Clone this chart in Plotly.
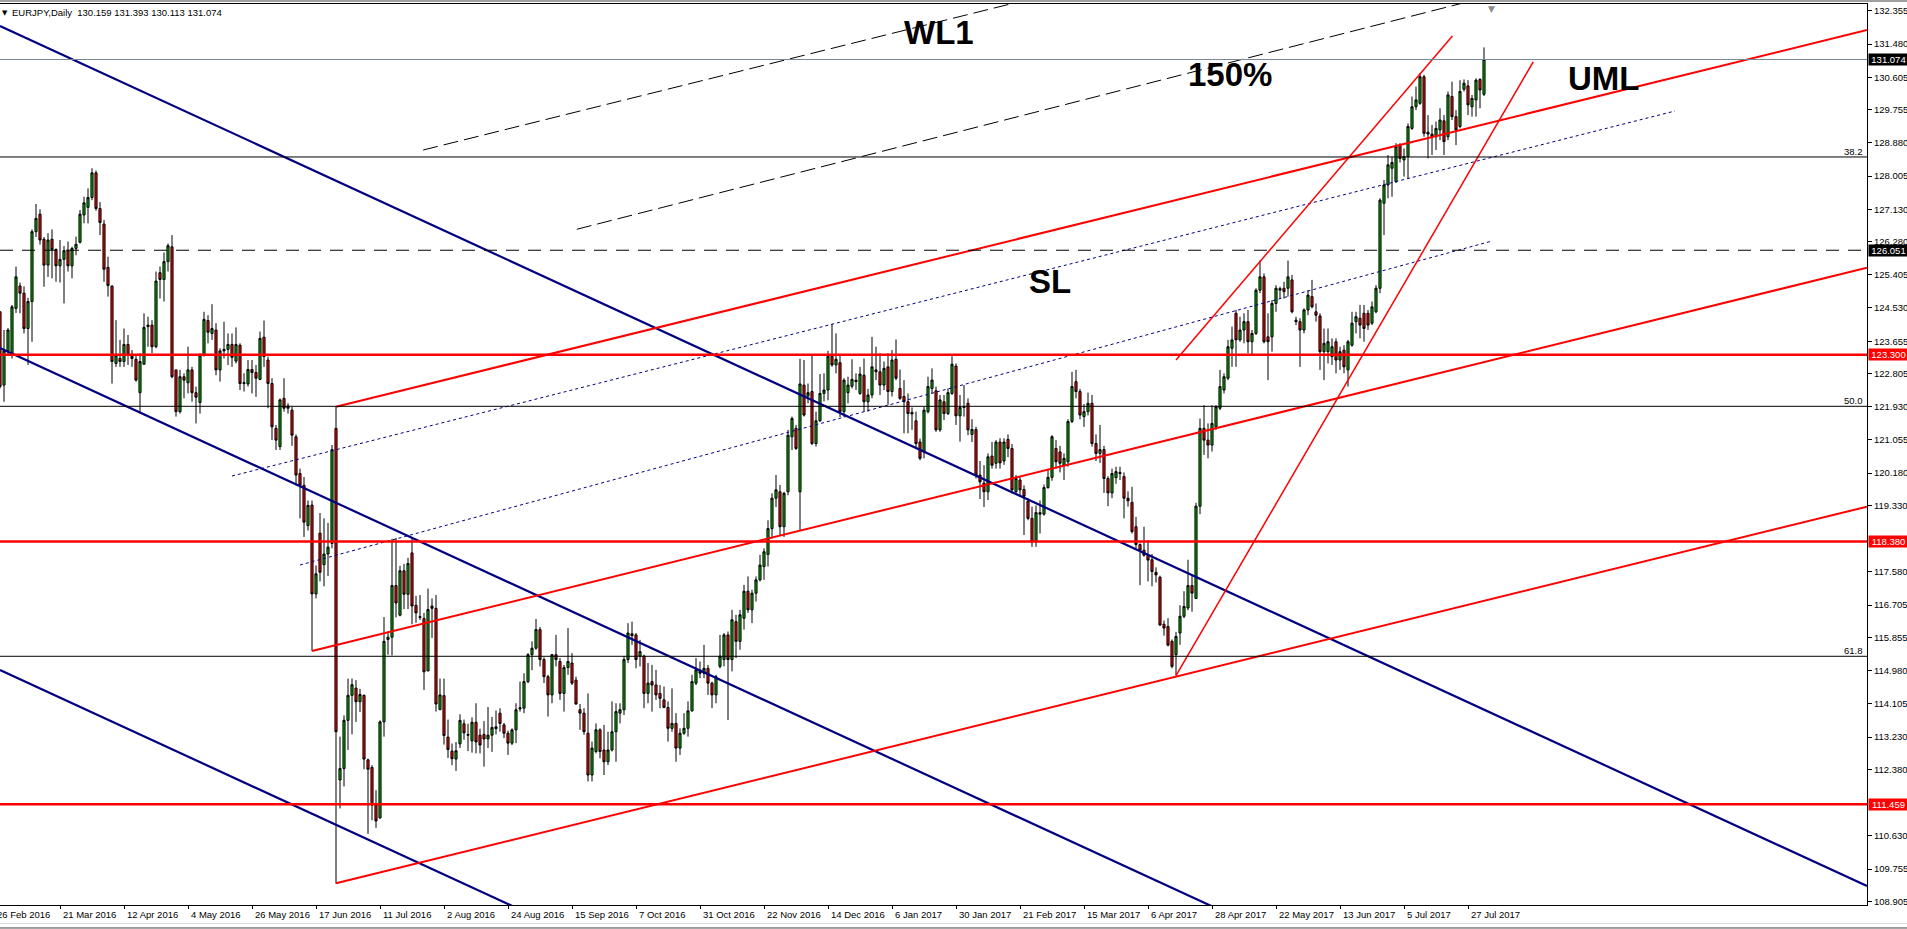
import plotly.graph_objects as go
import pandas as pd

# daily bars (open, high, low, close), 29 Feb 2016 .. 2 Aug 2017
bars_2016_a = [
    (124.43,124.45,122.41,122.46),(122.50,123.95,122.06,123.40),(123.40,124.00,123.30,123.95),(123.29,124.61,123.20,124.56),(124.52,125.62,124.40,125.35),
    (125.11,125.20,124.39,124.92),(124.92,125.10,123.86,123.99),(123.99,124.80,123.03,124.70),(124.70,126.60,123.64,126.54),(126.54,127.27,126.40,126.89),
    (127.00,127.13,126.20,126.32),(126.34,126.40,125.09,125.66),(125.66,126.50,125.35,126.32),(126.34,126.60,125.31,126.07),(126.07,126.10,125.22,125.64),
    (125.64,126.32,125.20,125.81),(125.81,126.16,124.65,126.04),(126.04,126.28,125.49,125.64),(125.64,126.14,125.31,126.10),(126.10,126.41,125.92,126.21),
    (126.26,127.11,126.23,127.00),(126.98,127.46,126.76,127.30),(127.18,127.68,126.76,127.44),(127.44,128.21,127.37,128.09),(128.09,128.15,127.09,127.15),
    (127.15,127.32,126.45,126.78),(126.74,126.85,125.22,125.55),(125.60,125.88,124.83,125.12),(125.11,125.12,122.54,123.12),(123.07,124.21,122.98,123.29),
    (123.20,123.69,122.98,123.12),(123.12,123.99,122.98,123.57),(123.57,123.82,123.03,123.29),(123.26,123.42,122.98,123.20),(123.18,123.29,122.59,122.63),
    (122.30,123.34,121.75,123.12),(123.05,124.39,123.03,124.02),(124.04,124.30,123.51,124.08),(124.08,124.21,123.34,123.51),(123.51,125.49,123.47,125.24),
]
bars_2016_b = [
    (125.46,125.62,124.78,125.28),(125.28,125.99,124.70,125.75),(125.75,126.23,125.49,126.17),(126.14,126.45,122.68,122.72),(122.90,122.90,121.67,121.80),
    (121.80,122.90,121.75,122.72),(122.72,122.81,122.15,122.63),(122.56,123.51,122.28,122.90),(122.90,122.98,122.06,122.30),(122.30,122.46,121.49,122.18),
    (122.04,123.34,121.75,123.29),(123.29,124.43,123.25,124.23),(124.20,124.34,123.60,123.89),(123.86,124.63,123.69,123.99),(123.95,124.13,122.76,122.90),
    (122.90,123.47,122.59,123.40),(123.40,124.17,123.20,123.44),(123.44,123.86,123.03,123.57),(123.57,123.86,122.98,123.23),(123.13,124.02,123.07,123.57),
    (123.55,123.60,122.37,122.54),(122.54,122.81,122.33,122.56),(122.53,123.16,122.46,122.91),(122.91,123.16,122.28,122.83),(122.83,123.03,122.19,122.68),
    (122.65,123.91,122.63,123.73),(123.76,124.20,122.98,123.25),(123.16,123.25,121.89,122.54),(122.54,122.68,121.05,121.40),(121.36,121.45,120.79,121.05),
    (120.88,122.15,120.79,122.11),(122.15,122.68,121.80,121.89),(121.95,122.02,121.75,121.89),(121.84,121.93,120.90,121.18),(121.14,121.20,119.86,120.13),
    (120.17,120.30,118.99,119.86),(119.86,120.08,118.50,118.89),(118.80,119.46,118.67,119.33),(119.34,119.46,115.50,117.00),(117.00,117.75,116.88,117.53),
    (118.60,119.13,117.33,117.57),(117.77,118.99,117.20,118.05),(118.05,118.87,117.47,118.23),(118.33,120.92,118.20,120.80),(121.36,121.93,109.37,113.37),
]
bars_2016_c = [
    (112.10,113.24,111.35,112.40),(112.40,113.80,111.93,113.67),(113.67,114.77,112.89,114.33),(114.33,114.77,113.30,114.61),(114.52,114.73,113.63,114.16),
    (114.16,114.50,113.89,114.35),(114.33,114.35,112.38,112.65),(112.63,112.66,110.68,112.38),(112.43,112.49,111.04,111.44),(111.44,111.83,110.84,111.02),
    (111.10,113.67,111.08,113.63),(113.63,116.39,113.24,115.75),(115.80,116.01,115.40,115.86),(115.86,118.45,115.38,117.22),(117.22,118.47,116.38,116.76),
    (116.44,117.74,116.41,117.61),(117.61,117.79,116.60,116.99),(116.99,117.95,116.60,117.80),(118.08,118.48,116.20,116.68),(116.70,116.95,116.24,116.50),
    (116.38,116.97,116.31,116.40),(116.35,116.50,114.47,114.95),(114.97,117.14,114.97,116.59),(116.68,116.88,115.84,116.62),(116.62,116.97,113.90,114.10),
    (113.95,114.77,113.95,114.34),(114.32,114.77,113.03,113.27),(113.23,113.69,112.68,112.90),(112.86,113.06,112.49,112.66),(112.65,113.10,112.34,112.87),
    (113.05,113.83,112.94,113.67),(113.58,113.69,113.16,113.34),(113.30,113.58,112.86,113.28),(113.13,113.75,112.82,113.62),(113.62,114.12,112.80,113.10),
    (113.28,113.45,112.80,113.02),(113.30,113.65,112.45,113.18),(113.18,114.02,112.94,113.28),(113.28,113.76,112.84,113.48),(113.45,113.93,113.30,113.50),
]
bars_2016_d = [
    (113.86,113.99,113.37,113.59),(113.55,113.60,113.20,113.33),(113.33,113.40,112.76,113.07),(113.07,113.46,113.02,113.42),(113.42,114.12,113.07,113.95),
    (113.97,114.69,113.90,114.00),(113.99,114.91,113.86,114.69),(114.69,115.44,114.65,115.40),(115.40,115.75,114.99,115.57),(115.57,116.34,115.53,116.06),
    (116.06,116.13,115.09,115.27),(115.27,115.33,114.65,114.82),(114.82,114.87,113.77,114.34),(114.34,115.42,114.12,115.40),(115.40,115.92,115.09,115.27),
    (115.22,115.31,114.21,114.38),(114.38,115.13,113.90,115.06),(115.06,116.10,114.87,115.22),(115.18,115.44,114.60,114.65),(114.73,114.82,114.08,114.10),
    (113.95,114.10,113.42,113.86),(113.86,113.99,113.29,113.37),(113.33,114.38,112.06,112.23),(112.23,113.11,112.06,112.94),(112.85,113.59,112.80,113.42),
    (113.42,113.46,112.67,112.85),(112.89,113.55,112.23,112.58),(112.58,113.37,112.49,112.89),(112.89,114.17,112.85,113.37),(113.37,114.12,112.58,113.90),
    (113.86,114.12,113.59,113.95),(113.95,115.36,113.81,115.27),(115.27,116.23,115.18,115.97),(115.95,116.27,115.66,115.90),(115.92,115.97,115.04,115.27),
    (115.36,115.79,115.09,115.48),(115.36,115.40,113.99,114.38),(114.38,115.18,114.12,114.65),(114.69,115.13,113.90,114.60),(114.60,115.00,114.21,114.34),
]
bars_2016_e = [
    (114.38,114.60,113.99,114.25),(114.21,114.56,113.99,114.01),(114.01,114.17,113.11,113.46),(113.46,114.51,113.37,113.59),(113.59,113.86,112.58,112.94),
    (112.94,113.46,112.76,113.33),(113.33,113.86,113.29,113.46),(113.46,114.17,113.24,113.92),(113.92,114.87,113.90,114.69),(114.65,115.31,114.60,115.00),
    (114.96,115.22,114.78,114.91),(114.91,115.66,114.78,115.04),(115.04,115.13,114.34,114.65),(114.65,114.69,113.99,114.34),(114.34,114.87,114.12,114.82),
    (115.09,115.92,115.04,115.36),(115.27,115.97,115.09,115.92),(115.92,116.01,113.68,115.27),(115.27,116.58,114.96,116.32),(116.27,116.45,115.31,115.75),
    (115.75,116.58,115.53,116.45),(116.36,117.24,116.06,117.07),(117.07,117.46,116.50,116.58),(116.58,117.11,116.23,117.02),(117.02,117.46,116.80,117.37),
    (117.37,118.03,117.33,117.76),(117.72,118.20,117.37,118.11),(118.04,118.94,117.72,118.72),(118.72,119.65,118.46,119.52),(119.52,120.13,119.29,119.74),
    (119.69,119.87,118.55,118.77),(118.77,119.69,118.50,119.65),(119.69,121.32,119.60,121.18),(121.14,121.67,120.79,121.62),(121.36,121.45,120.79,120.83),
]
bars_2016_f = [
    (119.69,123.19,118.68,122.53),(122.50,123.16,121.67,121.71),(122.21,122.54,122.02,122.30),(122.33,123.29,120.92,120.96),(120.96,121.80,120.88,121.56),
    (121.56,122.79,121.53,122.28),(122.28,122.81,122.07,122.37),(122.37,123.40,122.10,123.26),(123.26,124.11,122.98,123.03),(123.03,123.86,122.81,123.18),
    (123.09,123.29,121.66,121.80),(121.80,122.68,121.66,122.63),(122.30,122.72,122.02,122.50),(122.47,123.18,122.41,122.65),(122.63,122.81,122.37,122.59),
    (122.28,122.98,122.24,122.79),(122.76,123.20,121.80,122.06),(122.06,122.40,121.80,122.24),(122.24,123.77,122.15,122.98),(122.90,123.51,122.63,122.85),
    (122.85,123.34,122.24,122.50),(122.50,123.12,122.37,122.94),(122.98,123.34,121.98,122.33),(122.33,123.42,122.20,123.16),(123.18,123.70,122.63,122.68),
    (122.41,122.91,122.11,122.15),(122.20,122.63,121.23,122.06),(122.06,122.28,121.23,121.75),(121.78,121.91,121.32,121.74),(121.56,121.80,120.83,120.96),
    (121.00,121.09,120.52,120.57),(120.75,121.93,120.57,121.84),(121.80,122.72,121.75,122.46),(122.41,122.94,122.28,122.63),(122.35,122.46,121.27,121.32),
    (121.32,122.24,121.27,122.11),(122.06,122.24,121.58,121.75),(121.75,122.41,121.71,122.30),(122.28,123.26,122.24,123.05),(123.00,123.07,121.45,121.69),
    (121.69,122.24,121.01,121.91),(121.91,122.50,121.67,121.93),(122.02,122.15,121.18,121.32),
]
bars_2017_a = [
    (121.20,121.60,121.00,121.33),(121.33,121.40,120.04,120.13),(120.13,120.50,119.50,119.95),(119.92,120.39,119.29,119.69),(119.69,120.70,119.47,120.61),
    (120.63,121.00,120.30,120.39),(120.44,121.05,120.30,121.00),(121.00,121.10,120.30,120.45),(120.50,121.10,120.40,121.00),(121.07,121.20,120.60,120.83),
    (120.83,120.95,119.65,119.74),(119.69,120.13,119.65,120.04),(120.00,120.09,119.56,119.74),(119.75,119.86,118.55,119.57),(119.44,119.52,118.94,118.99),
    (118.99,119.30,118.24,118.37),(118.37,119.33,118.24,119.14),(119.14,119.46,118.59,119.10),(119.10,119.88,119.06,119.80),(119.80,120.26,119.77,120.07),
    (120.07,121.18,119.98,121.14),(120.83,121.05,120.30,120.48),(120.74,120.90,120.20,120.44),(120.39,120.70,120.00,120.57),(120.48,121.60,120.35,121.54),
    (121.54,122.85,121.50,122.46),(122.59,122.90,122.15,122.33),(122.33,122.40,121.60,121.71),(121.67,122.00,121.40,121.80),(121.80,122.30,121.70,122.02),
    (122.02,122.24,120.88,120.96),(120.96,121.20,120.50,120.70),(120.70,121.45,120.45,120.80),(120.80,120.90,119.66,120.04),(120.04,120.10,119.31,119.66),
    (119.66,120.30,119.52,120.17),(120.06,120.35,119.90,120.22),(120.20,120.35,120.00,120.17),(120.09,120.20,118.99,119.52),(119.52,119.70,119.30,119.45),
    (119.41,119.82,118.59,118.64),(118.77,119.03,118.20,118.30),(118.30,118.33,117.23,118.15),(118.15,118.77,117.98,118.02),(118.02,118.42,117.33,117.89),
    (117.90,118.05,117.20,117.59),(117.57,117.70,117.30,117.50),(117.44,117.48,116.16,116.18),(116.20,116.30,115.90,116.10),(116.14,116.36,115.62,115.65),
    (115.75,115.80,115.04,115.09),(115.40,116.00,114.85,115.88),(115.97,116.70,115.66,116.41),(116.41,117.07,116.36,116.67),(116.63,117.90,116.57,117.22),
    (117.22,117.50,116.53,117.02),(116.88,119.40,116.88,119.31),
]
bars_2017_b = [
    (119.31,121.62,119.10,121.36),(121.36,121.97,120.66,121.05),(121.05,121.49,120.57,120.92),(120.92,121.97,120.75,121.49),(121.40,121.97,121.32,121.93),
    (121.89,122.90,121.84,122.46),(122.37,122.81,122.28,122.72),(122.68,123.69,122.63,123.51),(123.47,124.04,122.98,123.69),(124.39,124.48,122.98,123.69),
    (123.69,124.30,123.64,123.95),(123.95,124.39,123.60,124.17),(124.17,124.48,123.34,123.64),(123.64,123.95,123.29,123.86),(123.86,125.05,123.82,125.00),
    (125.00,125.78,124.92,125.35),(125.35,125.44,123.60,123.64),(123.77,124.39,122.63,123.64),(123.77,124.74,123.38,124.65),(124.65,125.13,124.43,125.05),
    (125.00,125.09,124.78,125.04),(125.05,125.22,124.78,124.96),(125.05,125.78,124.83,125.35),(125.27,125.40,124.39,124.43),(124.21,124.30,124.08,124.17),
    (124.17,124.26,122.98,123.95),(123.95,124.52,123.86,124.48),(124.48,125.00,124.34,124.87),(124.83,125.27,124.52,124.56),(124.43,124.65,124.17,124.34),
    (124.32,124.39,122.90,123.38),(123.38,123.99,122.63,123.60),(123.38,123.99,123.07,123.64),(123.25,123.73,123.03,123.51),(123.64,123.73,122.81,123.16),
    (123.16,123.51,122.90,123.38),(123.42,123.55,122.81,122.98),(122.90,123.69,122.46,123.64),(123.55,124.43,123.51,124.13),(124.17,124.43,123.86,124.30),
    (124.26,124.61,123.73,124.08),(124.39,124.61,123.64,123.99),(124.39,124.48,123.95,124.08),(124.13,124.70,124.08,124.56),(124.43,125.13,124.39,125.05),
    (125.05,127.42,124.92,127.37),(127.29,127.90,126.45,127.77),(127.77,128.56,127.42,128.30),(128.21,128.52,127.46,128.36),(127.86,128.87,127.82,128.78),
    (128.82,128.87,128.36,128.47),(128.43,128.73,127.99,128.52),(128.52,129.39,127.94,129.31),(129.26,130.10,129.22,129.83),(129.83,130.36,129.74,130.01),
    (129.92,130.71,129.88,130.62),(130.62,130.67,129.04,129.13),(129.16,129.61,128.47,129.11),(129.11,129.35,128.56,129.04),(129.04,129.44,128.69,129.26),
    (129.22,129.79,128.95,129.48),(129.46,129.61,128.56,128.91),(129.04,130.23,128.95,130.14),(130.10,130.49,129.48,129.57),(129.57,129.74,128.82,129.22),
    (129.31,130.53,129.26,130.23),(130.29,130.55,130.23,130.45),(130.38,130.53,129.61,129.88),(129.83,130.14,129.57,130.05),(130.01,130.58,129.57,130.53),
    (130.55,130.58,129.79,130.27),(130.159,131.393,130.113,131.074),
]

# drawn objects: end points as (bar number, price)
blue_top = [(1, 131.957), (467.75, 109.307)]
blue_mid = [(1, 123.476), (467.75, 100.826)]
blue_low = [(1, 114.996), (467.75, 92.346)]
dotted_upper = [(59, 120.105), (419.75, 129.718)]
dotted_lower = [(76, 117.761), (374, 126.294)]
wl1_line = [(106.8, 128.691), (258.5, 132.665)]
pct150_line = [(145.2, 126.603), (371, 132.677)]
fork_upper = [(85, 121.93), (467.75, 131.851)]
fork_median = [(79, 115.497), (467.75, 125.591)]
fork_lower = [(85, 109.378), (467.75, 119.297)]
steep_lower = [(295, 114.846), (384.3, 131.009)]
steep_upper = [(295, 123.16), (364.1, 131.693)]

red_levels = [123.300, 118.380, 111.459]
fib_levels = [128.507, 121.941, 115.357]
fib_names = ["38.2", "50.0", "61.8"]
stop_level = 126.051
last_price = 131.074

# price scale labels (the ones hidden under the red price boxes are left out)
price_ticks = [132.355, 131.480, 130.605, 129.755, 128.880, 128.005, 127.130, 126.280,
               125.405, 124.530, 123.655, 122.805, 121.930, 121.055, 120.180, 119.330,
               117.580, 116.705, 115.855, 114.980, 114.105, 113.230, 112.380,
               110.630, 109.755, 108.905]
date_labels = ["26 Feb 2016", "21 Mar 2016", "12 Apr 2016", "4 May 2016", "26 May 2016",
               "17 Jun 2016", "11 Jul 2016", "2 Aug 2016", "24 Aug 2016", "15 Sep 2016",
               "7 Oct 2016", "31 Oct 2016", "22 Nov 2016", "14 Dec 2016", "6 Jan 2017",
               "30 Jan 2017", "21 Feb 2017", "15 Mar 2017", "6 Apr 2017", "28 Apr 2017",
               "22 May 2017", "13 Jun 2017", "5 Jul 2017", "27 Jul 2017"]

# big chart labels: (text, bar number, price)
chart_texts = [("WL1", 235.8, 131.786), ("150%", 308.6, 130.68),
               ("UML", 401.8, 130.569), ("SL", 263.6, 125.215)]

X_RANGE = [1, 467.75]
Y_RANGE = [108.807, 132.536]
FONT = "Liberation Sans, Arial, sans-serif"
NAVY = "#000080"
RED = "#ff0000"

bars = bars_2016_a + bars_2016_b + bars_2016_c + bars_2016_d + bars_2016_e + bars_2016_f + bars_2017_a + bars_2017_b
opens = [b[0] for b in bars]
highs = [b[1] for b in bars]
lows = [b[2] for b in bars]
closes = [b[3] for b in bars]
bar_no = list(range(1, len(bars) + 1))

# broker calendar: weekdays, no bar on 2 Jan 2017; 26 Feb 2016 is bar 0
days = [d for d in pd.bdate_range("2016-02-26", "2017-08-02") if d != pd.Timestamp("2017-01-02")]
day_index = {d: i for i, d in enumerate(days)}
label_pos = [day_index[pd.to_datetime(s, format="%d %b %Y")] for s in date_labels]

fig = go.Figure()
fig.add_trace(go.Candlestick(
    x=bar_no, open=opens, high=highs, low=lows, close=closes,
    increasing=dict(line=dict(color="black", width=1), fillcolor="#00b000"),
    decreasing=dict(line=dict(color="black", width=1), fillcolor=RED),
    whiskerwidth=0, hoverinfo="skip", showlegend=False,
))

def add_line(pts, color, width, dash="solid"):
    fig.add_trace(go.Scatter(x=[p[0] for p in pts], y=[p[1] for p in pts], mode="lines",
                             line=dict(color=color, width=width, dash=dash),
                             hoverinfo="skip", showlegend=False))

# horizontal levels
shapes = []
for lv in fib_levels:
    shapes.append(dict(type="line", xref="paper", x0=0, x1=1, yref="y", y0=lv, y1=lv,
                       line=dict(color="black", width=1)))
shapes.append(dict(type="line", xref="paper", x0=0, x1=1, yref="y", y0=stop_level, y1=stop_level,
                   line=dict(color="black", width=1, dash="13px,9px")))
shapes.append(dict(type="line", xref="paper", x0=0, x1=1, yref="y", y0=last_price, y1=last_price,
                   line=dict(color="#778899", width=1)))
for lv in red_levels:
    shapes.append(dict(type="line", xref="paper", x0=0, x1=1, yref="y", y0=lv, y1=lv,
                       line=dict(color=RED, width=2.5)))
# window chrome above / below the chart
shapes.append(dict(type="line", xref="paper", x0=0, x1=1.03, yref="paper", y0=1.0033, y1=1.0033,
                   line=dict(color="#a0a0a0", width=2)))
shapes.append(dict(type="line", xref="paper", x0=0, x1=1.03, yref="paper", y0=-0.0205, y1=-0.0205,
                   line=dict(color="#d8d8d8", width=1)))
shapes.append(dict(type="line", xref="paper", x0=0, x1=1.03, yref="paper", y0=-0.0255, y1=-0.0255,
                   line=dict(color="#404040", width=1)))

add_line(dotted_upper, NAVY, 1, "3px,3px")
add_line(dotted_lower, NAVY, 1, "3px,3px")
add_line(wl1_line, "black", 1, "15px,6px")
add_line(pct150_line, "black", 1, "15px,6px")
add_line(blue_top, NAVY, 2.2)
add_line(blue_mid, NAVY, 2.2)
add_line(blue_low, NAVY, 2.2)
add_line(fork_upper, RED, 2)
add_line(fork_median, RED, 2)
add_line(fork_lower, RED, 2)
add_line(steep_lower, RED, 1.5)
add_line(steep_upper, RED, 1.5)

small = dict(family=FONT, size=9.5, color="black")
ann = []
# header
ann.append(dict(xref="paper", yref="paper", x=0, y=1, xanchor="left", yanchor="top", xshift=0, yshift=-3,
                text="\u25bc", showarrow=False, font=dict(family="DejaVu Sans", size=7, color="black")))
ann.append(dict(xref="paper", yref="paper", x=0, y=1, xanchor="left", yanchor="top", xshift=10, yshift=-1,
                text="EURJPY,Daily\u00a0\u00a0130.159 131.393 130.113 131.074", showarrow=False, font=small))
# chart-shift marker
ann.append(dict(xref="x", yref="paper", x=373.75, y=1, xanchor="center", yanchor="top", yshift=2,
                text="\u25bc", showarrow=False, font=dict(family="DejaVu Sans", size=9, color="#8c8c8c")))
# date labels under the time axis
for s, pos in zip(date_labels, label_pos):
    if pos < X_RANGE[0]:
        ann.append(dict(xref="paper", yref="paper", x=0, y=0, xanchor="left", yanchor="top",
                        xshift=-5, yshift=-2, text=s, showarrow=False, font=small))
    else:
        ann.append(dict(xref="x", yref="paper", x=pos, y=0, xanchor="left", yanchor="top",
                        xshift=1, yshift=-2, text=s, showarrow=False, font=small))
# fibonacci level names
for name, lv in zip(fib_names, fib_levels):
    ann.append(dict(xref="paper", yref="y", x=1, y=lv, xanchor="right", yanchor="bottom",
                    xshift=-2, yshift=-2, text=name, showarrow=False, font=small))
# highlighted prices on the price scale
for lv, bg in [(last_price, "black"), (stop_level, "black")] + [(v, RED) for v in red_levels]:
    ann.append(dict(xref="paper", yref="y", x=1, y=lv, xanchor="left", yanchor="middle", xshift=1,
                    text=f"{lv:.3f}", showarrow=False, bgcolor=bg, borderpad=0, width=39, height=11,
                    align="center", font=dict(family=FONT, size=9.5, color="white")))
# big labels
for txt, bx, py in chart_texts:
    ann.append(dict(xref="x", yref="y", x=bx, y=py, xanchor="center", yanchor="middle",
                    text=f"<b>{txt}</b>", showarrow=False,
                    font=dict(family="Liberation Sans, Arial, sans-serif", size=33, color="black")))

fig.update_layout(
    width=1907, height=929,
    margin=dict(l=0, r=40, t=4, b=24),
    paper_bgcolor="white", plot_bgcolor="white",
    showlegend=False, boxgap=0.25,
    shapes=shapes, annotations=ann,
    xaxis=dict(range=X_RANGE, showgrid=False, zeroline=False, rangeslider=dict(visible=False),
               showline=True, linecolor="black", linewidth=1, mirror=True,
               ticks="outside", ticklen=3, tickcolor="black",
               tickvals=[p for p in label_pos if p >= X_RANGE[0]], showticklabels=False),
    yaxis=dict(range=Y_RANGE, side="right", showgrid=False, zeroline=False,
               showline=True, linecolor="black", linewidth=1,
               ticks="outside", ticklen=4, tickcolor="black",
               tickvals=price_ticks, ticktext=[f"{v:.3f}" for v in price_ticks],
               tickfont=small),
)

fig.write_html("out.html", config={"displayModeBar": False},
               post_script="document.body.style.margin='0px';")
